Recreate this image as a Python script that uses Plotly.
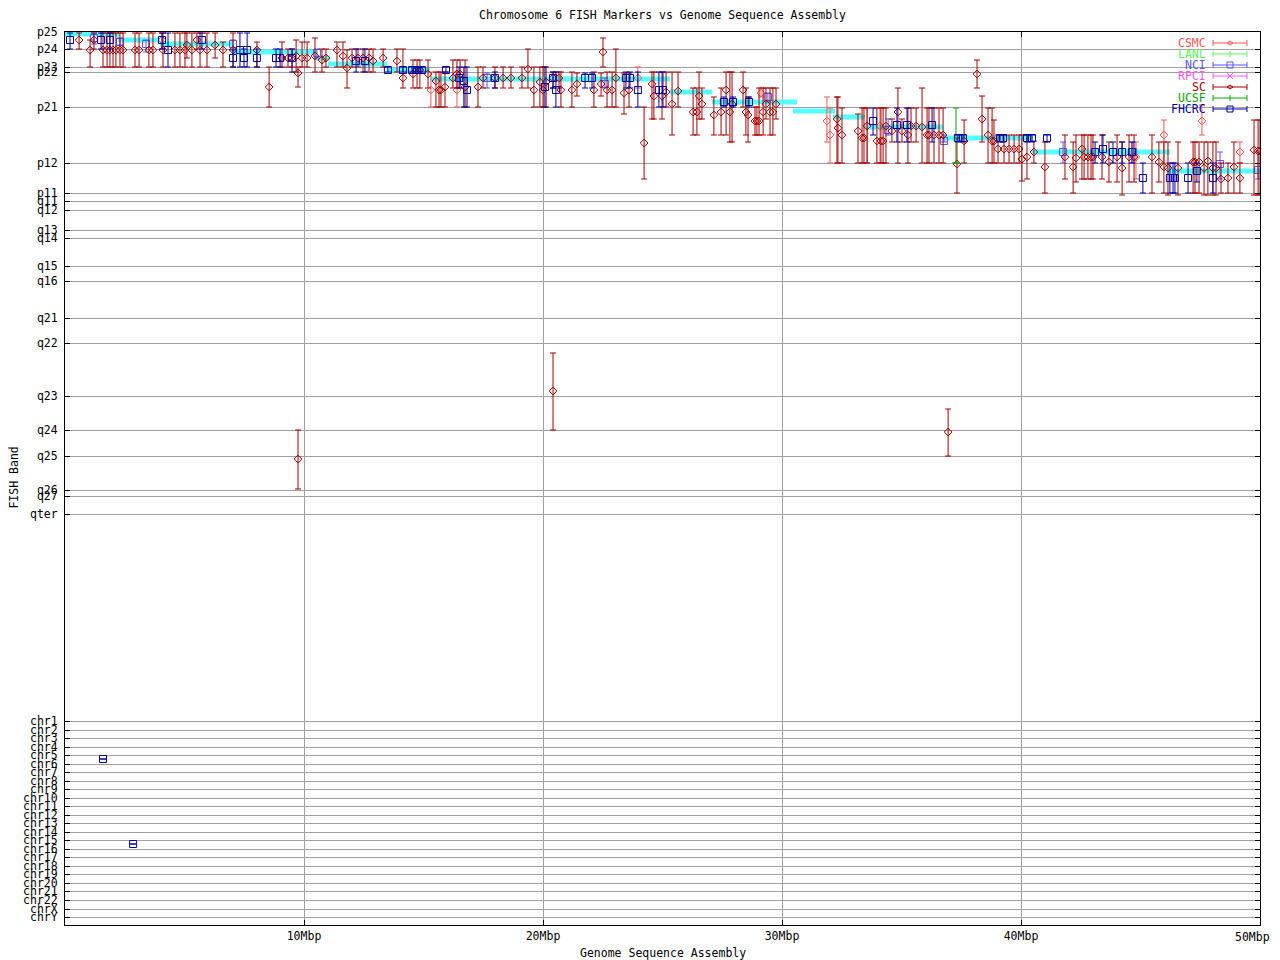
import plotly.graph_objects as go

# ---------------- data ----------------
BAND_LABELS = ["p25", "p24", "p23", "p22", "p21", "p12", "p11", "q11", "q12", "q13",
               "q14", "q15", "q16", "q21", "q22", "q23", "q24", "q25", "q26", "q27", "qter",
               "chr1", "chr2", "chr3", "chr4", "chr5", "chr6", "chr7", "chr8", "chr9", "chr10",
               "chr11", "chr12", "chr13", "chr14", "chr15", "chr16", "chr17", "chr18", "chr19",
               "chr20", "chr21", "chr22", "chrX", "chrY"]
BAND_POS = [0, 17, 35, 40, 75, 131, 161, 169, 178, 198,
            206, 234, 249, 286, 311, 364, 398, 424, 458, 464, 482,
            689, 698, 706, 715, 723, 732, 740, 749, 757, 766,
            774, 783, 791, 800, 808, 817, 825, 834, 842,
            851, 859, 868, 877, 885]
Y_MAX = 893

X_TICKS = [10, 20, 30, 40, 50]
X_TICK_LABELS = ["10Mbp", "20Mbp", "30Mbp", "40Mbp", "50Mbp"]

# assembly band assignment (cyan steps)
ASM_START = [0.0, 2.22, 3.97, 7.0, 10.46, 11.0, 13.47, 15.27, 25.31, 27.07, 30.46, 32.13, 33.47, 36.74, 40.46, 46.11]
ASM_END = [2.30, 3.97, 7.03, 10.54, 11.09, 13.47, 15.27, 25.31, 27.07, 30.63, 32.22, 33.47, 36.74, 40.50, 46.23, 50.0]
ASM_BAND = [2, 8, 12, 20, 26, 32, 38, 47, 60, 70, 79, 85, 95, 106, 120, 139]

SC_X = [0.59, 1.05, 1.21, 1.59, 1.76, 1.88, 2.01, 2.13, 2.30, 2.43,
        2.93, 3.10, 3.51, 3.68, 4.10, 4.60, 4.81, 5.02, 5.10, 5.31,
        5.52, 5.65, 5.94, 6.28, 6.61, 7.03, 8.03, 8.54, 9.08, 9.33,
        9.50, 9.67, 9.75, 9.92, 10.13, 10.46, 10.75, 10.92, 11.38, 11.63,
        11.80, 12.01, 12.26, 12.47, 12.72, 12.89, 13.31, 13.89, 14.14, 14.56,
        14.73, 14.85, 15.19, 15.52, 15.65, 15.73, 15.90, 16.23, 16.40, 16.53,
        16.74, 17.28, 17.49, 17.99, 18.33, 18.66, 19.12, 19.37, 19.62, 19.87,
        20.00, 20.13, 20.42, 20.67, 20.75, 21.21, 21.42, 22.13, 22.43, 22.51,
        22.68, 22.89, 23.05, 23.39, 23.60, 24.23, 24.56, 24.64, 24.98, 25.15,
        25.40, 25.65, 26.28, 26.44, 26.53, 26.65, 27.15, 27.45, 27.66, 27.82,
        27.91, 28.37, 28.49, 28.58, 28.87, 28.95, 29.04, 29.21, 29.33, 29.50,
        29.62, 29.75, 32.30, 32.34, 32.51, 33.18, 33.35, 33.43, 33.56, 33.97,
        34.14, 34.23, 34.35, 34.60, 34.85, 35.02, 35.27, 35.40, 35.61, 35.86,
        36.07, 36.15, 36.36, 36.57, 36.74, 37.32, 37.62, 38.16, 38.37, 38.62,
        38.79, 38.87, 39.04, 39.29, 39.50, 39.71, 39.92, 40.04, 40.25, 40.54,
        41.00, 41.84, 42.18, 42.30, 42.55, 42.64, 42.80, 42.93, 43.01, 43.39,
        43.68, 44.02, 44.23, 44.52, 44.73, 45.48, 45.77, 45.98, 46.15, 46.57,
        47.20, 47.28, 47.45, 47.66, 47.82, 48.03, 48.16, 48.37, 48.66, 48.91,
        49.16, 49.75, 49.92, 50.00, 9.75, 20.42, 36.95]
SC_Y = [8, 18, 8, 18, 18, 18, 18, 18, 18, 18,
        18, 18, 18, 18, 18, 18, 18, 18, 13, 18,
        8, 18, 18, 13, 18, 18, 18, 55, 26, 26,
        26, 24, 41, 26, 26, 24, 28, 26, 18, 24,
        36, 26, 26, 26, 26, 29, 26, 29, 46, 42,
        38, 38, 42, 49, 58, 58, 55, 46, 42, 42,
        55, 55, 46, 46, 46, 46, 46, 37, 58, 50,
        58, 50, 46, 46, 58, 58, 52, 58, 52, 20,
        58, 58, 46, 61, 58, 111, 52, 64, 64, 60,
        72, 59, 80, 80, 64, 72, 83, 80, 58, 80,
        72, 58, 80, 83, 89, 89, 89, 80, 72, 80,
        80, 72, 87, 96, 103, 99, 106, 106, 94, 109,
        109, 109, 94, 99, 80, 99, 103, 94, 94, 95,
        103, 103, 103, 103, 103, 132, 109, 42, 87, 103,
        109, 109, 117, 117, 117, 117, 117, 127, 125, 120,
        135, 125, 135, 126, 117, 125, 125, 125, 125, 125,
        130, 125, 136, 125, 125, 125, 130, 135, 136, 136,
        130, 130, 130, 136, 129, 136, 136, 147, 146, 135,
        146, 118, 119, 119, 427, 359, 400]
SC_TOP = [1, 8, 1, 1, 1, 1, 1, 1, 1, 1,
          1, 1, 1, 1, 1, 1, 1, 1, 1, 1,
          1, 1, 1, 1, 10, 1, 10, 35, 10, 17,
          17, 8, 35, 10, 10, 6, 17, 17, 10, 10,
          18, 17, 17, 17, 17, 17, 17, 17, 17, 28,
          28, 28, 28, 40, 40, 40, 40, 28, 28, 28,
          28, 35, 35, 35, 35, 35, 35, 17, 35, 35,
          35, 35, 40, 40, 40, 40, 41, 40, 41, 6,
          40, 40, 17, 41, 41, 75, 40, 40, 40, 40,
          40, 40, 56, 56, 40, 56, 65, 56, 40, 40,
          40, 40, 56, 65, 75, 75, 56, 56, 56, 56,
          56, 56, 65, 65, 76, 82, 76, 76, 76, 76,
          76, 76, 76, 87, 56, 87, 76, 76, 76, 56,
          76, 76, 76, 76, 76, 106, 88, 28, 64, 76,
          76, 88, 103, 103, 103, 103, 103, 103, 103, 109,
          110, 103, 110, 103, 103, 103, 103, 103, 103, 103,
          110, 103, 110, 103, 103, 103, 110, 110, 110, 110,
          110, 110, 110, 110, 110, 110, 110, 131, 131, 110,
          131, 88, 88, 88, 398, 321, 377]
SC_BOT = [17, 35, 17, 35, 35, 35, 35, 35, 35, 35,
          35, 35, 35, 35, 35, 35, 35, 35, 26, 35,
          17, 35, 35, 26, 35, 35, 35, 75, 35, 35,
          35, 40, 55, 35, 35, 40, 40, 35, 35, 35,
          56, 35, 35, 40, 40, 40, 35, 40, 56, 56,
          56, 56, 56, 75, 75, 75, 75, 56, 56, 56,
          75, 75, 56, 56, 56, 56, 56, 56, 75, 75,
          75, 75, 56, 56, 75, 75, 64, 75, 64, 35,
          75, 75, 75, 82, 75, 147, 87, 87, 87, 75,
          103, 75, 103, 103, 87, 87, 103, 103, 103, 110,
          110, 75, 103, 110, 103, 103, 103, 103, 87, 103,
          103, 87, 131, 131, 131, 131, 131, 131, 131, 131,
          131, 131, 131, 110, 131, 110, 131, 110, 110, 131,
          131, 131, 131, 131, 131, 161, 131, 56, 110, 131,
          131, 131, 131, 131, 131, 131, 131, 149, 147, 131,
          161, 147, 161, 150, 147, 147, 147, 147, 147, 147,
          150, 150, 163, 150, 150, 161, 150, 161, 163, 163,
          161, 161, 161, 163, 163, 163, 163, 161, 161, 161,
          161, 163, 163, 163, 457, 398, 424]

FH_X = [0.21, 1.51, 1.88, 4.06, 4.31, 5.73, 7.03, 7.32, 7.49, 7.62,
        8.03, 8.83, 9.00, 9.50, 12.18, 12.55, 13.51, 14.14, 14.52, 14.73,
        14.94, 15.94, 16.49, 16.69, 16.82, 17.99, 20.08, 20.42, 20.54, 21.76,
        22.05, 23.47, 23.64, 23.97, 24.85, 25.02, 27.57, 27.95, 28.62, 33.81,
        34.81, 35.23, 36.28, 37.36, 37.57, 39.12, 39.25, 40.25, 40.46, 41.09,
        43.10, 43.43, 43.85, 44.23, 44.64, 45.10, 46.23, 46.36, 46.44, 46.99,
        47.36, 48.03, 1.59, 2.85]
FH_Y = [8, 8, 8, 8, 18, 8, 26, 18, 26, 18,
        26, 26, 26, 26, 29, 29, 38, 38, 38, 38,
        38, 38, 46, 49, 58, 46, 55, 46, 58, 46,
        46, 46, 46, 58, 58, 58, 70, 70, 70, 89,
        93, 93, 93, 106, 106, 106, 106, 106, 106, 106,
        120, 117, 120, 120, 120, 146, 146, 146, 146, 146,
        139, 146, 727, 812]
FH_TOP = [1, 1, 1, 1, 1, 1, 18, 1, 17, 1,
          17, 17, 17, 17, 17, 17, 35, 35, 35, 35,
          35, 35, 35, 35, 35, 40, 35, 40, 40, 41,
          41, 40, 40, 40, 40, 40, 65, 65, 65, 76,
          76, 76, 76, 103, 103, 103, 103, 103, 103, 103,
          110, 103, 110, 110, 110, 131, 131, 131, 131, 131,
          131, 131, 727, 812]
FH_BOT = [17, 17, 17, 17, 35, 17, 35, 35, 35, 35,
          35, 35, 35, 40, 40, 40, 40, 40, 40, 40,
          40, 40, 56, 75, 75, 56, 75, 56, 75, 56,
          56, 56, 56, 75, 75, 75, 75, 75, 75, 103,
          110, 110, 110, 110, 110, 110, 110, 110, 110, 110,
          131, 131, 131, 131, 131, 161, 161, 161, 161, 161,
          150, 161, 727, 812]

NCI_X = [1.21, 2.30, 3.39, 7.03, 10.54, 17.66, 22.59, 29.41, 34.44, 36.78, 41.76, 44.69, 48.33, 49.92]
NCI_Y = [6, 10, 12, 12, 21, 46, 52, 65, 98, 109, 120, 120, 132, 138]
NCI_TOP = [1, 6, 8, 8, 17, 41, 46, 61, 87, 103, 110, 110, 120, 120]
NCI_BOT = [12, 13, 20, 17, 26, 56, 56, 70, 103, 110, 131, 131, 147, 147]

CSMC_X = [4.06, 15.31, 16.40, 23.97, 29.12, 31.88, 32.01, 33.56, 34.10, 44.81, 45.98, 47.57, 49.16]
CSMC_Y = [8, 58, 58, 46, 61, 89, 103, 94, 94, 125, 103, 89, 120]
CSMC_TOP = [1, 40, 40, 35, 56, 65, 76, 76, 76, 110, 88, 73, 110]
CSMC_BOT = [17, 75, 75, 56, 65, 110, 131, 131, 131, 147, 131, 103, 131]

UCSF_X = [37.28]
UCSF_Y = [131]
UCSF_TOP = [76]
UCSF_BOT = [131]

LEGEND_NAMES = ["CSMC", "LANL", "NCI", "RPCI", "SC", "UCSF", "FHCRC"]

# ---------------- styles ----------------
COLORS = {"CSMC": "#ff5555", "LANL": "#55ff55", "NCI": "#5555ff", "RPCI": "#ff55ff",
          "SC": "#aa0000", "UCSF": "#00aa00", "FHCRC": "#0000aa"}
LEG_MARK = {"CSMC": "diamond", "LANL": "tick", "NCI": "square", "RPCI": "x",
            "SC": "diamond", "UCSF": "tick", "FHCRC": "square"}
FONT = "DejaVu Sans Mono"
FS = 11.5
GRID = "#a0a0a0"

fig = go.Figure()

# assembly band steps
ax, ay = [], []
for s, e, b in zip(ASM_START, ASM_END, ASM_BAND):
    ax += [s, e, None]
    ay += [b, b, None]
fig.add_trace(go.Scatter(x=ax, y=ay, mode="lines", line=dict(color="#55ffff", width=5),
                         showlegend=False, hoverinfo="skip"))


def add_series(name, xs, ys, tops, bots, symbol, size):
    c = COLORS[name]
    fig.add_trace(go.Scatter(
        x=xs, y=ys, mode="markers", name=name, showlegend=False,
        marker=dict(symbol=symbol, size=size, color=c, line=dict(color=c, width=1)),
        error_y=dict(type="data", symmetric=False,
                     array=[b - y for b, y in zip(bots, ys)],
                     arrayminus=[y - t for t, y in zip(tops, ys)],
                     color=c, thickness=1, width=3)))


add_series("CSMC", CSMC_X, CSMC_Y, CSMC_TOP, CSMC_BOT, "diamond-open", 6)
add_series("NCI", NCI_X, NCI_Y, NCI_TOP, NCI_BOT, "square-open", 7)
add_series("SC", SC_X, SC_Y, SC_TOP, SC_BOT, "diamond-open", 6)
add_series("UCSF", UCSF_X, UCSF_Y, UCSF_TOP, UCSF_BOT, "line-ew-open", 6)
add_series("FHCRC", FH_X, FH_Y, FH_TOP, FH_BOT, "square-open", 7)

# ---------------- manual legend (text left, sample right) ----------------
shapes = []
annotations = []
LEG_Y0 = 0.98768
LEG_DY = 0.01232
TXT_X = 0.9565
LX0, LX1, LXM = 0.9607, 0.9891, 0.9749
for i, name in enumerate(LEGEND_NAMES):
    c = COLORS[name]
    yy = LEG_Y0 - i * LEG_DY
    annotations.append(dict(x=TXT_X, y=yy, xref="paper", yref="paper", text=name,
                            showarrow=False, xanchor="right", yanchor="middle",
                            font=dict(family=FONT, size=FS, color=c)))
    shapes.append(dict(type="line", xref="paper", yref="paper", x0=LX0, x1=LX1, y0=yy, y1=yy,
                       line=dict(color=c, width=1)))
    for xc in (LX0, LX1):
        shapes.append(dict(type="line", xref="paper", yref="paper", x0=xc, x1=xc,
                           ysizemode="pixel", yanchor=yy, y0=-3, y1=3,
                           line=dict(color=c, width=1)))
    m = LEG_MARK[name]
    base = dict(xref="paper", yref="paper", xsizemode="pixel", ysizemode="pixel",
                xanchor=LXM, yanchor=yy, line=dict(color=c, width=1))
    if m == "square":
        shapes.append(dict(type="rect", x0=-3, x1=3, y0=-3, y1=3, fillcolor="rgba(0,0,0,0)", **base))
    elif m == "diamond":
        shapes.append(dict(type="path", path="M-3,0 L0,2 L3,0 L0,-2 Z", fillcolor="rgba(0,0,0,0)", **base))
    elif m == "x":
        shapes.append(dict(type="path", path="M-3,-3 L3,3 M-3,3 L3,-3", **base))
    else:
        shapes.append(dict(type="line", x0=0, x1=0, y0=-3, y1=3, **base))

# last x tick label: drawn as an annotation so it stays inside the page edge
annotations.append(dict(x=X_TICKS[-1], y=-0.0134, xref="x", yref="paper", text=X_TICK_LABELS[-1],
                        showarrow=False, xanchor="right", yanchor="middle", xshift=12,
                        font=dict(family=FONT, size=FS, color="black")))

# axis titles
annotations.append(dict(x=0.5, y=-0.0314, xref="paper", yref="paper", text="Genome Sequence Assembly",
                        showarrow=False, xanchor="center", yanchor="middle",
                        font=dict(family=FONT, size=FS, color="black")))
annotations.append(dict(x=-0.0430, y=0.5006, xref="paper", yref="paper", text="FISH Band",
                        showarrow=False, textangle=-90, xanchor="center", yanchor="middle",
                        font=dict(family=FONT, size=FS, color="black")))

# page body adds an 8px offset, so the figure is sized to fit inside the window
fig.update_layout(
    width=1264, height=952,
    margin=dict(l=57, r=12, t=24, b=35),
    paper_bgcolor="white", plot_bgcolor="white",
    title=dict(text="Chromosome 6 FISH Markers vs Genome Sequence Assembly",
               x=0.5, xref="paper", y=1 - 7 / 952, yref="container", yanchor="middle",
               font=dict(family=FONT, size=FS, color="black")),
    font=dict(family=FONT, size=FS, color="black"),
    shapes=shapes, annotations=annotations,
    showlegend=False,
)
fig.update_xaxes(range=[0, 50], tickvals=X_TICKS, ticktext=X_TICK_LABELS[:-1] + [""],
                 showgrid=True, gridcolor=GRID, gridwidth=1, zeroline=False,
                 showline=True, linecolor="black", linewidth=1, mirror="all",
                 ticks="inside", ticklen=5, tickcolor="black",
                 tickfont=dict(family=FONT, size=FS, color="black"))
fig.update_yaxes(range=[Y_MAX, 0], tickvals=BAND_POS, ticktext=BAND_LABELS,
                 showgrid=True, gridcolor=GRID, gridwidth=1, zeroline=False,
                 showline=True, linecolor="black", linewidth=1, mirror="all",
                 ticks="inside", ticklen=5, tickcolor="black", ticklabelstandoff=4,
                 tickfont=dict(family=FONT, size=FS, color="black"))

fig.write_html("out.html", config={"displayModeBar": False})
